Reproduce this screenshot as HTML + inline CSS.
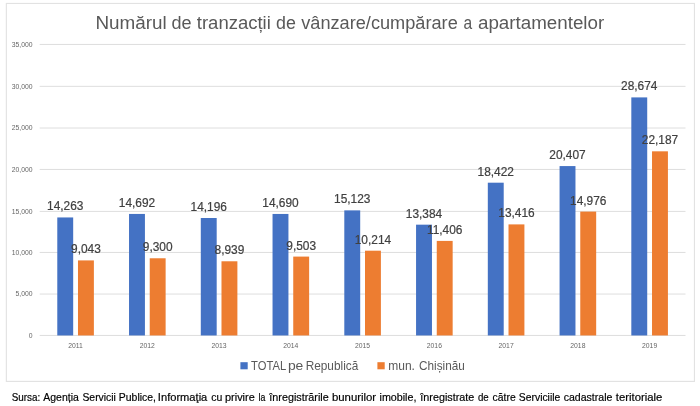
<!DOCTYPE html>
<html lang="ro"><head><meta charset="utf-8"><title>Numărul de tranzacții de vânzare/cumpărare a apartamentelor</title>
<style>html,body{margin:0;padding:0;background:#fff;}body{width:700px;height:406px;overflow:hidden;}svg{display:block;will-change:transform;}text{font-family:"Liberation Sans",sans-serif;}</style>
</head><body>
<svg width="700" height="406" viewBox="0 0 700 406">
<rect x="0" y="0" width="700" height="406" fill="#fff"/>
<rect x="6.35" y="3.45" width="688.1" height="377.95" fill="#fff" stroke="#E2E2E2" stroke-width="1.15"/>
<line x1="39.7" y1="335.45" x2="685.5" y2="335.45" stroke="#DEDEDE" stroke-width="1"/>
<line x1="39.7" y1="294.05" x2="685.5" y2="294.05" stroke="#DEDEDE" stroke-width="1"/>
<line x1="39.7" y1="252.45" x2="685.5" y2="252.45" stroke="#DEDEDE" stroke-width="1"/>
<line x1="39.7" y1="211.40" x2="685.5" y2="211.40" stroke="#DEDEDE" stroke-width="1"/>
<line x1="39.7" y1="169.45" x2="685.5" y2="169.45" stroke="#DEDEDE" stroke-width="1"/>
<line x1="39.7" y1="128.00" x2="685.5" y2="128.00" stroke="#DEDEDE" stroke-width="1"/>
<line x1="39.7" y1="86.35" x2="685.5" y2="86.35" stroke="#DEDEDE" stroke-width="1"/>
<line x1="39.7" y1="44.45" x2="685.5" y2="44.45" stroke="#DEDEDE" stroke-width="1"/>
<text x="32.6" y="337.75" font-size="6.8" fill="#666666" text-anchor="end">0</text>
<text x="32.6" y="296.35" font-size="6.8" fill="#666666" text-anchor="end">5,000</text>
<text x="32.6" y="254.75" font-size="6.8" fill="#666666" text-anchor="end">10,000</text>
<text x="32.6" y="213.70" font-size="6.8" fill="#666666" text-anchor="end">15,000</text>
<text x="32.6" y="171.75" font-size="6.8" fill="#666666" text-anchor="end">20,000</text>
<text x="32.6" y="130.30" font-size="6.8" fill="#666666" text-anchor="end">25,000</text>
<text x="32.6" y="88.65" font-size="6.8" fill="#666666" text-anchor="end">30,000</text>
<text x="32.6" y="46.75" font-size="6.8" fill="#666666" text-anchor="end">35,000</text>
<rect x="57.28" y="217.45" width="15.9" height="118.00" fill="#4472C4"/>
<rect x="77.98" y="260.41" width="15.9" height="75.04" fill="#ED7D31"/>
<rect x="129.03" y="213.93" width="15.9" height="121.52" fill="#4472C4"/>
<rect x="149.73" y="258.27" width="15.9" height="77.18" fill="#ED7D31"/>
<rect x="200.79" y="218.00" width="15.9" height="117.45" fill="#4472C4"/>
<rect x="221.49" y="261.28" width="15.9" height="74.17" fill="#ED7D31"/>
<rect x="272.54" y="213.95" width="15.9" height="121.50" fill="#4472C4"/>
<rect x="293.24" y="256.59" width="15.9" height="78.86" fill="#ED7D31"/>
<rect x="344.30" y="210.37" width="15.9" height="125.08" fill="#4472C4"/>
<rect x="365.00" y="250.69" width="15.9" height="84.76" fill="#ED7D31"/>
<rect x="416.06" y="224.67" width="15.9" height="110.78" fill="#4472C4"/>
<rect x="436.76" y="240.91" width="15.9" height="94.54" fill="#ED7D31"/>
<rect x="487.81" y="182.69" width="15.9" height="152.76" fill="#4472C4"/>
<rect x="508.51" y="224.40" width="15.9" height="111.05" fill="#ED7D31"/>
<rect x="559.57" y="166.08" width="15.9" height="169.37" fill="#4472C4"/>
<rect x="580.27" y="211.60" width="15.9" height="123.85" fill="#ED7D31"/>
<rect x="631.32" y="97.40" width="15.9" height="238.05" fill="#4472C4"/>
<rect x="652.02" y="151.32" width="15.9" height="184.13" fill="#ED7D31"/>
<text x="75.58" y="347.8" font-size="6.8" fill="#666666" text-anchor="middle">2011</text>
<text x="147.33" y="347.8" font-size="6.8" fill="#666666" text-anchor="middle">2012</text>
<text x="219.09" y="347.8" font-size="6.8" fill="#666666" text-anchor="middle">2013</text>
<text x="290.84" y="347.8" font-size="6.8" fill="#666666" text-anchor="middle">2014</text>
<text x="362.60" y="347.8" font-size="6.8" fill="#666666" text-anchor="middle">2015</text>
<text x="434.36" y="347.8" font-size="6.8" fill="#666666" text-anchor="middle">2016</text>
<text x="506.11" y="347.8" font-size="6.8" fill="#666666" text-anchor="middle">2017</text>
<text x="577.87" y="347.8" font-size="6.8" fill="#666666" text-anchor="middle">2018</text>
<text x="649.62" y="347.8" font-size="6.8" fill="#666666" text-anchor="middle">2019</text>
<text x="65.23" y="210.45" font-size="11.9" fill="#404040" stroke="#404040" stroke-width="0.2" text-anchor="middle">14,263</text>
<text x="85.93" y="253.41" font-size="11.9" fill="#404040" stroke="#404040" stroke-width="0.2" text-anchor="middle">9,043</text>
<text x="136.98" y="206.93" font-size="11.9" fill="#404040" stroke="#404040" stroke-width="0.2" text-anchor="middle">14,692</text>
<text x="157.68" y="251.27" font-size="11.9" fill="#404040" stroke="#404040" stroke-width="0.2" text-anchor="middle">9,300</text>
<text x="208.74" y="211.00" font-size="11.9" fill="#404040" stroke="#404040" stroke-width="0.2" text-anchor="middle">14,196</text>
<text x="229.44" y="254.28" font-size="11.9" fill="#404040" stroke="#404040" stroke-width="0.2" text-anchor="middle">8,939</text>
<text x="280.49" y="206.95" font-size="11.9" fill="#404040" stroke="#404040" stroke-width="0.2" text-anchor="middle">14,690</text>
<text x="301.19" y="249.59" font-size="11.9" fill="#404040" stroke="#404040" stroke-width="0.2" text-anchor="middle">9,503</text>
<text x="352.25" y="203.37" font-size="11.9" fill="#404040" stroke="#404040" stroke-width="0.2" text-anchor="middle">15,123</text>
<text x="372.95" y="243.69" font-size="11.9" fill="#404040" stroke="#404040" stroke-width="0.2" text-anchor="middle">10,214</text>
<text x="424.01" y="217.67" font-size="11.9" fill="#404040" stroke="#404040" stroke-width="0.2" text-anchor="middle">13,384</text>
<text x="444.71" y="233.91" font-size="11.9" fill="#404040" stroke="#404040" stroke-width="0.2" text-anchor="middle">11,406</text>
<text x="495.76" y="175.69" font-size="11.9" fill="#404040" stroke="#404040" stroke-width="0.2" text-anchor="middle">18,422</text>
<text x="516.46" y="217.40" font-size="11.9" fill="#404040" stroke="#404040" stroke-width="0.2" text-anchor="middle">13,416</text>
<text x="567.52" y="159.08" font-size="11.9" fill="#404040" stroke="#404040" stroke-width="0.2" text-anchor="middle">20,407</text>
<text x="588.22" y="204.60" font-size="11.9" fill="#404040" stroke="#404040" stroke-width="0.2" text-anchor="middle">14,976</text>
<text x="639.27" y="90.40" font-size="11.9" fill="#404040" stroke="#404040" stroke-width="0.2" text-anchor="middle">28,674</text>
<text x="659.97" y="144.32" font-size="11.9" fill="#404040" stroke="#404040" stroke-width="0.2" text-anchor="middle">22,187</text>
<rect x="240.4" y="362.2" width="7.3" height="7.1" fill="#4472C4"/>
<rect x="377.4" y="362.2" width="7.3" height="7.1" fill="#ED7D31"/>
<text x="95.49" y="28.9" font-size="17.5" fill="#595959" textLength="71.28" lengthAdjust="spacingAndGlyphs">Numărul</text>
<text x="171.48" y="28.9" font-size="17.5" fill="#595959" textLength="20.08" lengthAdjust="spacingAndGlyphs">de</text>
<text x="196.79" y="28.9" font-size="17.5" fill="#595959" textLength="74.06" lengthAdjust="spacingAndGlyphs">tranzacții</text>
<text x="276.09" y="28.9" font-size="17.5" fill="#595959" textLength="19.86" lengthAdjust="spacingAndGlyphs">de</text>
<text x="301.20" y="28.9" font-size="17.5" fill="#595959" textLength="156.56" lengthAdjust="spacingAndGlyphs">vânzare/cumpărare</text>
<text x="463.58" y="28.9" font-size="17.5" fill="#595959" textLength="8.66" lengthAdjust="spacingAndGlyphs">a</text>
<text x="477.95" y="28.9" font-size="17.5" fill="#595959" textLength="126.30" lengthAdjust="spacingAndGlyphs">apartamentelor</text>
<text x="251.12" y="369.7" font-size="12.4" fill="#595959" textLength="35.04" lengthAdjust="spacingAndGlyphs">TOTAL</text>
<text x="287.90" y="369.7" font-size="12.4" fill="#595959" textLength="15.45" lengthAdjust="spacingAndGlyphs">pe</text>
<text x="305.65" y="369.7" font-size="12.4" fill="#595959" textLength="52.65" lengthAdjust="spacingAndGlyphs">Republică</text>
<text x="388.23" y="369.7" font-size="12.4" fill="#595959" textLength="26.69" lengthAdjust="spacingAndGlyphs">mun.</text>
<text x="419.03" y="369.7" font-size="12.4" fill="#595959" textLength="45.72" lengthAdjust="spacingAndGlyphs">Chișinău</text>
<text x="11.65" y="400.7" font-size="11.0" fill="#000" stroke="#000" stroke-width="0.18" textLength="28.51" lengthAdjust="spacingAndGlyphs">Sursa:</text>
<text x="43.30" y="400.7" font-size="11.0" fill="#000" stroke="#000" stroke-width="0.18" textLength="35.52" lengthAdjust="spacingAndGlyphs">Agenția</text>
<text x="82.43" y="400.7" font-size="11.0" fill="#000" stroke="#000" stroke-width="0.18" textLength="33.48" lengthAdjust="spacingAndGlyphs">Servicii</text>
<text x="118.85" y="400.7" font-size="11.0" fill="#000" stroke="#000" stroke-width="0.18" textLength="37.06" lengthAdjust="spacingAndGlyphs">Publice,</text>
<text x="157.89" y="400.7" font-size="11.0" fill="#000" stroke="#000" stroke-width="0.18" textLength="49.43" lengthAdjust="spacingAndGlyphs">Informaţia</text>
<text x="211.32" y="400.7" font-size="11.0" fill="#000" stroke="#000" stroke-width="0.18" textLength="11.06" lengthAdjust="spacingAndGlyphs">cu</text>
<text x="225.01" y="400.7" font-size="11.0" fill="#000" stroke="#000" stroke-width="0.18" textLength="29.71" lengthAdjust="spacingAndGlyphs">privire</text>
<text x="258.44" y="400.7" font-size="11.0" fill="#000" stroke="#000" stroke-width="0.18" textLength="6.79" lengthAdjust="spacingAndGlyphs">la</text>
<text x="269.29" y="400.7" font-size="11.0" fill="#000" stroke="#000" stroke-width="0.18" textLength="59.42" lengthAdjust="spacingAndGlyphs">înregistrările</text>
<text x="331.98" y="400.7" font-size="11.0" fill="#000" stroke="#000" stroke-width="0.18" textLength="44.19" lengthAdjust="spacingAndGlyphs">bunurilor</text>
<text x="379.52" y="400.7" font-size="11.0" fill="#000" stroke="#000" stroke-width="0.18" textLength="36.91" lengthAdjust="spacingAndGlyphs">imobile,</text>
<text x="420.29" y="400.7" font-size="11.0" fill="#000" stroke="#000" stroke-width="0.18" textLength="54.02" lengthAdjust="spacingAndGlyphs">înregistrate</text>
<text x="477.95" y="400.7" font-size="11.0" fill="#000" stroke="#000" stroke-width="0.18" textLength="10.82" lengthAdjust="spacingAndGlyphs">de</text>
<text x="492.62" y="400.7" font-size="11.0" fill="#000" stroke="#000" stroke-width="0.18" textLength="23.07" lengthAdjust="spacingAndGlyphs">către</text>
<text x="518.83" y="400.7" font-size="11.0" fill="#000" stroke="#000" stroke-width="0.18" textLength="41.46" lengthAdjust="spacingAndGlyphs">Serviciile</text>
<text x="563.72" y="400.7" font-size="11.0" fill="#000" stroke="#000" stroke-width="0.18" textLength="48.68" lengthAdjust="spacingAndGlyphs">cadastrale</text>
<text x="615.80" y="400.7" font-size="11.0" fill="#000" stroke="#000" stroke-width="0.18" textLength="46.53" lengthAdjust="spacingAndGlyphs">teritoriale</text>
</svg></body></html>
